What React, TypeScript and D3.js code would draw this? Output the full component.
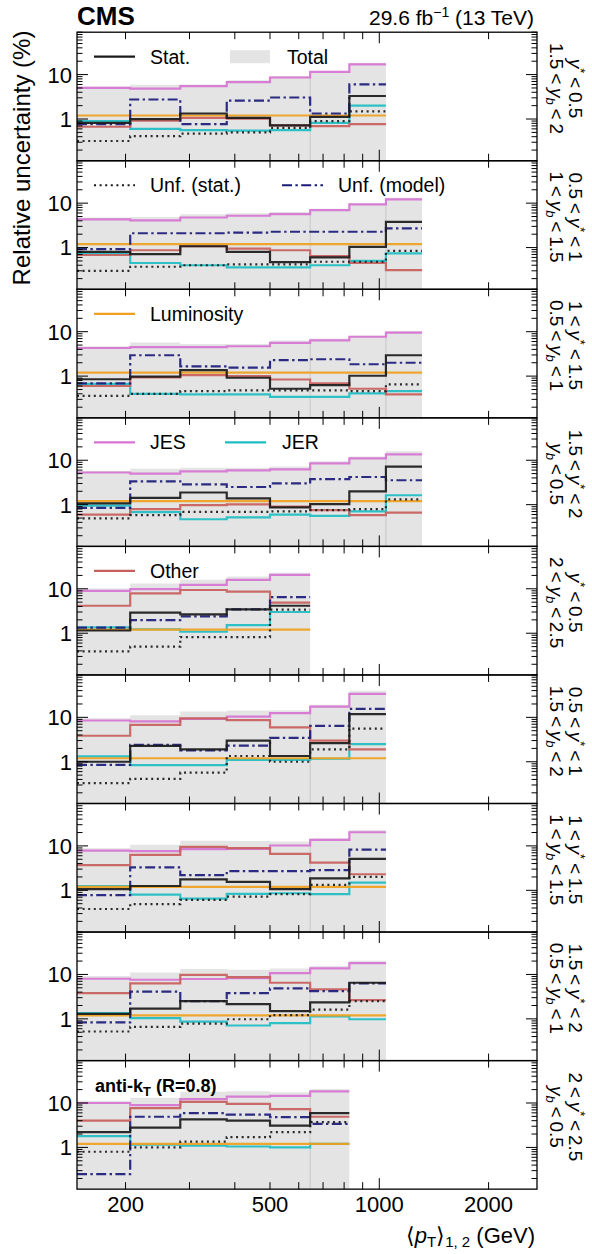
import React from 'react';
import * as d3 from 'd3';

// ---------------- data ----------------
const binEdges = [147, 206, 283, 380, 500, 645, 827, 1043, 1311];

const yStarLo = ['', '0.5', '1', '1.5', '', '0.5', '1', '1.5', '2'];
const yStarHi = ['0.5', '1', '1.5', '2', '0.5', '1', '1.5', '2', '2.5'];
const yBoostLo = ['1.5', '1', '0.5', '', '2', '1.5', '1', '0.5', ''];
const yBoostHi = ['2', '1.5', '1', '0.5', '2.5', '2', '1.5', '1', '0.5'];

const totalUnc = [
  [5.4, 5.9, 6.0, 7.5, 9.3, 11.8, 18.5],
  [4.75, 4.9, 5.6, 5.9, 6.3, 7.5, 9.8, 13.2],
  [4.7, 5.7, 5.3, 5.3, 6.3, 7.0, 8.1, 10.3],
  [5.75, 6.4, 6.8, 6.8, 7.2, 9.5, 12.1, 15.9],
  [10.2, 13.2, 15.9, 18.8, 22.9],
  [9.6, 11.1, 13.6, 14.2, 14.4, 19.1, 39.5],
  [8.9, 10.6, 13.1, 12.9, 12.6, 14.8, 22.8],
  [9.2, 11.0, 13.2, 12.8, 13.6, 15.4, 20.4],
  [11.2, 13.2, 17.8, 18.3, 17.4, 20.5],
];
const statUnc = [
  [0.82, 0.99, 1.33, 1.06, 0.72, 1.12, 3.3],
  [0.8, 0.71, 1.07, 0.8, 0.47, 0.6, 1.04, 3.8],
  [0.85, 0.97, 1.37, 0.92, 0.52, 0.63, 1.02, 2.95],
  [1.07, 1.42, 1.88, 1.38, 0.87, 1.03, 2.0, 7.2],
  [1.15, 2.9, 2.65, 3.45, 4.15],
  [1.0, 2.27, 1.9, 3.0, 1.35, 2.63, 11.8],
  [1.06, 1.25, 1.77, 1.55, 1.06, 1.85, 5.1],
  [1.3, 1.7, 2.5, 2.15, 1.5, 2.35, 6.5],
  [2.2, 2.8, 4.3, 4.0, 3.1, 5.9],
];
const unfStatUnc = [
  [0.32, 0.41, 0.47, 0.5, 0.63, 0.9, 1.48],
  [0.3, 0.37, 0.4, 0.42, 0.42, 0.48, 0.48, 0.84],
  [0.36, 0.4, 0.46, 0.48, 0.48, 0.48, 0.46, 0.65],
  [0.49, 0.58, 0.69, 0.69, 0.71, 0.75, 0.79, 1.32],
  [0.39, 0.5, 0.82, 0.82, 3.4],
  [0.33, 0.41, 0.57, 1.35, 1.0, 1.9, 5.6],
  [0.38, 0.49, 0.61, 0.72, 0.82, 1.32, 2.0],
  [0.52, 0.66, 0.78, 0.98, 1.22, 1.62, 2.5],
  [0.8, 1.0, 1.35, 1.7, 2.2, 3.7],
];
const unfModelUnc = [
  [0.77, 2.75, 0.77, 2.6, 3.05, 1.33, 6.0],
  [0.92, 2.1, 2.1, 2.17, 2.27, 2.27, 2.27, 2.7],
  [0.69, 2.95, 1.66, 1.55, 2.28, 2.4, 1.85, 2.0],
  [0.85, 3.35, 2.87, 2.5, 3.0, 3.75, 4.2, 3.55],
  [1.33, 1.97, 2.4, 3.45, 6.5],
  [0.85, 2.39, 1.8, 2.3, 3.45, 6.4, 15.5],
  [0.78, 3.3, 2.2, 2.7, 2.7, 2.85, 8.2],
  [0.83, 4.1, 2.5, 3.8, 4.85, 4.2, 6.3],
  [0.25, 4.9, 5.9, 5.5, 4.8, 3.4],
];
const lumiUnc = [
  [1.2, 1.2, 1.2, 1.2, 1.2, 1.2, 1.2],
  [1.2, 1.2, 1.2, 1.2, 1.2, 1.2, 1.2, 1.2],
  [1.2, 1.2, 1.2, 1.2, 1.2, 1.2, 1.2, 1.2],
  [1.2, 1.2, 1.2, 1.2, 1.2, 1.2, 1.2, 1.2],
  [1.2, 1.2, 1.2, 1.2, 1.2],
  [1.2, 1.2, 1.2, 1.2, 1.2, 1.2, 1.2],
  [1.2, 1.2, 1.2, 1.2, 1.2, 1.2, 1.2],
  [1.2, 1.2, 1.2, 1.2, 1.2, 1.2, 1.2],
  [1.2, 1.2, 1.2, 1.2, 1.2, 1.2],
];
const jesUnc = [
  [5.0, 4.85, 5.5, 6.8, 8.6, 11.5, 16.9],
  [4.3, 4.1, 4.75, 5.2, 5.65, 7.0, 9.35, 12.2],
  [4.3, 4.5, 4.5, 4.7, 5.6, 6.4, 7.7, 9.5],
  [5.3, 5.0, 5.6, 5.9, 6.2, 8.5, 11.0, 13.5],
  [9.0, 9.8, 12.2, 15.8, 20.5],
  [8.5, 8.1, 9.2, 10.4, 12.4, 17.4, 33.7],
  [7.8, 7.6, 8.5, 8.6, 10.2, 13.6, 20.3],
  [8.0, 7.6, 7.9, 8.2, 10.7, 13.7, 17.9],
  [10.0, 9.0, 12.2, 13.9, 14.5, 18.3],
];
const jerUnc = [
  [0.9, 0.6, 0.56, 0.55, 0.56, 0.82, 2.0],
  [0.74, 0.45, 0.4, 0.36, 0.36, 0.4, 0.5, 0.74],
  [0.67, 0.4, 0.39, 0.39, 0.34, 0.34, 0.41, 0.46],
  [0.95, 0.68, 0.47, 0.52, 0.6, 0.56, 0.71, 1.63],
  [1.35, 1.23, 1.08, 1.52, 3.0],
  [1.32, 0.84, 0.84, 1.1, 1.1, 1.17, 2.5],
  [1.25, 0.8, 0.65, 0.83, 0.86, 0.82, 1.49],
  [1.35, 1.04, 0.87, 0.71, 0.8, 1.13, 0.98],
  [1.8, 1.15, 1.09, 1.05, 1.0, 1.2],
];
const otherUnc = [
  [0.67, 0.92, 1.06, 1.02, 0.72, 0.69, 0.77],
  [0.68, 0.87, 1.07, 0.95, 0.87, 0.64, 0.45, 0.31],
  [0.6, 0.94, 1.05, 1.0, 0.84, 0.69, 0.52, 0.39],
  [0.6, 0.79, 0.98, 1.02, 0.9, 0.75, 0.58, 0.66],
  [4.15, 7.9, 9.4, 8.6, 4.9],
  [3.85, 6.74, 9.5, 8.7, 5.95, 3.0, 1.9],
  [3.7, 6.3, 9.5, 8.9, 6.6, 4.2, 2.3],
  [3.8, 6.3, 9.8, 8.7, 6.5, 4.6, 2.65],
  [4.0, 7.7, 10.6, 9.6, 7.3, 4.9],
];

const xTickValues = [200, 300, 400, 500, 600, 700, 800, 900, 1000, 2000];
const xTickLabels = [200, 500, 1000, 2000];
const yTickLabels = [1, 10];

// ---------------- layout ----------------
const W = 592, H = 1254;
const X0 = 77, X1 = 537;
const TOP = 32.2, PH = 128.55;
const FONT = '"Liberation Sans", Arial, Helvetica, sans-serif';

const C_BLACK = '#1a1a1a';
const C_JES = '#d674d2';
const C_JER = '#1fbdc3';
const C_OTHER = '#c75f5d';
const C_LUMI = '#efa11f';
const C_MODEL = '#1b1b7a';
const C_BAND = '#e4e4e4';

const seriesDefs = [
  { key: 'jes', data: jesUnc, color: C_JES, dash: undefined },
  { key: 'jer', data: jerUnc, color: C_JER, dash: undefined },
  { key: 'other', data: otherUnc, color: C_OTHER, dash: undefined },
  { key: 'lumi', data: lumiUnc, color: C_LUMI, dash: undefined },
  { key: 'model', data: unfModelUnc, color: C_MODEL, dash: '10,3.4,2.4,3.4' },
  { key: 'ustat', data: unfStatUnc, color: C_BLACK, dash: '2,3.6' },
  { key: 'stat', data: statUnc, color: C_BLACK, dash: undefined },
];

type LegItem = { kind: 'line' | 'patch'; color: string; dash?: string; label: string; x: number; tx: number };
const legends: LegItem[][] = [
  [
    { kind: 'line', color: C_BLACK, label: 'Stat.', x: 94, tx: 150 },
    { kind: 'patch', color: C_BAND, label: 'Total', x: 230, tx: 287 },
  ],
  [
    { kind: 'line', color: C_BLACK, dash: '2,3.6', label: 'Unf. (stat.)', x: 94, tx: 150 },
    { kind: 'line', color: C_MODEL, dash: '10,3.4,2.4,3.4', label: 'Unf. (model)', x: 282, tx: 338 },
  ],
  [{ kind: 'line', color: C_LUMI, label: 'Luminosity', x: 94, tx: 150 }],
  [
    { kind: 'line', color: C_JES, label: 'JES', x: 94, tx: 150 },
    { kind: 'line', color: C_JER, label: 'JER', x: 225, tx: 282 },
  ],
  [{ kind: 'line', color: C_OTHER, label: 'Other', x: 94, tx: 150 }],
];

function stepPoints(vals: number[]) {
  const pts: [number, number][] = vals.map((v, i) => [binEdges[i], v]);
  pts.push([binEdges[vals.length], vals[vals.length - 1]]);
  return pts;
}

function RangeLabel({ lo, hi, sym, sup }: { lo: string; hi: string; sym: string; sup: boolean }) {
  return (
    <>
      {lo ? `${lo}\u2009<\u2009` : ''}
      <tspan fontStyle="italic">y</tspan>
      {sup ? (
        <tspan dy={-7} fontSize={13}>{sym}</tspan>
      ) : (
        <tspan dy={4} fontSize={13} fontStyle="italic">{sym}</tspan>
      )}
      <tspan dy={sup ? 7 : -4}>{`\u2009<\u2009${hi}`}</tspan>
    </>
  );
}

export default function App() {
  const x = d3.scaleLog().domain([147, 2719]).range([X0, X1]);
  const panels = d3.range(9);

  return (
    <svg
      width={W}
      height={H}
      viewBox={`0 0 ${W} ${H}`}
      style={{ position: 'absolute', left: 0, top: 0, background: '#fff' }}
      fontFamily={FONT}
    >
      <rect x={0} y={0} width={W} height={H} fill="#fff" />
      <defs>
        {panels.map((p) => (
          <clipPath id={`clip${p}`} key={p}>
            <rect x={X0} y={TOP + p * PH} width={X1 - X0} height={PH} />
          </clipPath>
        ))}
      </defs>
      {panels.map((p) => {
        const top = TOP + p * PH;
        const bottom = top + PH;
        const y = d3.scaleLog().domain([0.115, 90]).range([bottom, top]);
        const yTicks = y.ticks();
        const tot = totalUnc[p];
        const n = tot.length;
        const area = d3
          .area<[number, number]>()
          .x((d) => x(d[0]))
          .y0(bottom)
          .y1((d) => y(d[1]))
          .curve(d3.curveStepAfter);
        const line = d3
          .line<[number, number]>()
          .x((d) => x(d[0]))
          .y((d) => y(d[1]))
          .curve(d3.curveStepAfter);
        const faint = [5, 7].filter((k) => k < n);
        const leg = legends[p] || [];
        const ly = top + 24.5;
        return (
          <g key={p}>
            <g clipPath={`url(#clip${p})`}>
              <path d={area(stepPoints(tot)) || ''} fill={C_BAND} />
              {faint.map((k) => (
                <line
                  key={k}
                  x1={x(binEdges[k])}
                  x2={x(binEdges[k])}
                  y1={bottom}
                  y2={y(Math.min(tot[k - 1], tot[k]))}
                  stroke="#c4c4c4"
                  strokeWidth={0.9}
                />
              ))}
              {seriesDefs.map((s) => (
                <path
                  key={s.key}
                  d={line(stepPoints(s.data[p])) || ''}
                  fill="none"
                  stroke={s.color}
                  strokeWidth={2.2}
                  strokeDasharray={s.dash}
                  strokeOpacity={0.92}
                />
              ))}
            </g>
            {/* x ticks */}
            {xTickValues.map((t) => {
              const len = t === 1000 ? 11 : 7;
              const xx = x(t);
              return (
                <g key={t}>
                  <line x1={xx} x2={xx} y1={bottom} y2={bottom - len} stroke="#000" strokeWidth={1} />
                  <line x1={xx} x2={xx} y1={top} y2={top + len} stroke="#000" strokeWidth={1} />
                </g>
              );
            })}
            {/* y ticks */}
            {yTicks.map((t, i) => {
              const lg = Math.log10(t);
              const major = Math.abs(lg - Math.round(lg)) < 1e-6;
              const len = major ? 11 : 5.5;
              const yy = y(t);
              return (
                <g key={i}>
                  <line x1={X0} x2={X0 + len} y1={yy} y2={yy} stroke="#000" strokeWidth={1} />
                  <line x1={X1} x2={X1 - len} y1={yy} y2={yy} stroke="#000" strokeWidth={1} />
                </g>
              );
            })}
            {yTickLabels.map((t) => (
              <text key={t} x={72} y={y(t)} dy="0.36em" textAnchor="end" fontSize={22} fill="#000">
                {t}
              </text>
            ))}
            <rect x={X0} y={top} width={X1 - X0} height={PH} fill="none" stroke="#000" strokeWidth={1.3} />
            {/* legend */}
            {leg.map((it, i) => (
              <g key={i}>
                {it.kind === 'line' ? (
                  <line
                    x1={it.x}
                    x2={it.x + 41}
                    y1={ly}
                    y2={ly}
                    stroke={it.color}
                    strokeWidth={2.2}
                    strokeDasharray={it.dash}
                  />
                ) : (
                  <rect x={it.x} y={ly - 6.5} width={40} height={13} fill={it.color} />
                )}
                <text x={it.tx} y={ly + 7} fontSize={19.5} fill="#000">
                  {it.label}
                </text>
              </g>
            ))}
            {/* bin labels */}
            <g transform={`translate(569, ${top + PH / 2 - 8}) rotate(90)`}>
              <text x={0} y={0} textAnchor="middle" fontSize={19} fill="#000">
                <RangeLabel lo={yStarLo[p]} hi={yStarHi[p]} sym="*" sup={true} />
              </text>
            </g>
            <g transform={`translate(550, ${top + PH / 2 - 8}) rotate(90)`}>
              <text x={0} y={0} textAnchor="middle" fontSize={19} fill="#000">
                <RangeLabel lo={yBoostLo[p]} hi={yBoostHi[p]} sym="b" sup={false} />
              </text>
            </g>
          </g>
        );
      })}
      {/* x tick labels */}
      {xTickLabels.map((t) => (
        <text key={t} x={x(t)} y={1212} textAnchor="middle" fontSize={22} fill="#000">
          {t}
        </text>
      ))}
      {/* x axis title */}
      <text x={535} y={1243} textAnchor="end" fontSize={22} fill="#000">
        {'\u27E8'}
        <tspan fontStyle="italic">p</tspan>
        <tspan dy={4} fontSize={15}>T</tspan>
        <tspan dy={-4}>{'\u27E9'}</tspan>
        <tspan dy={4} fontSize={15}>1, 2</tspan>
        <tspan dy={-4}> (GeV)</tspan>
      </text>
      {/* y axis title */}
      <text transform="translate(30, 158) rotate(-90)" textAnchor="middle" fontSize={24} fill="#000">
        Relative uncertainty (%)
      </text>
      {/* header */}
      <text x={77} y={25} fontSize={26} fontWeight="bold" fill="#000">
        CMS
      </text>
      <text x={534} y={25} textAnchor="end" fontSize={21} fill="#000">
        29.6 fb<tspan dy={-8} fontSize={14}>{'\u22121'}</tspan>
        <tspan dy={8}> (13 TeV)</tspan>
      </text>
      {/* anti-kT */}
      <text x={95} y={1092} fontSize={18} fontWeight="bold" fill="#000">
        anti-k<tspan dy={4} fontSize={13}>T</tspan>
        <tspan dy={-4}> (R=0.8)</tspan>
      </text>
    </svg>
  );
}
